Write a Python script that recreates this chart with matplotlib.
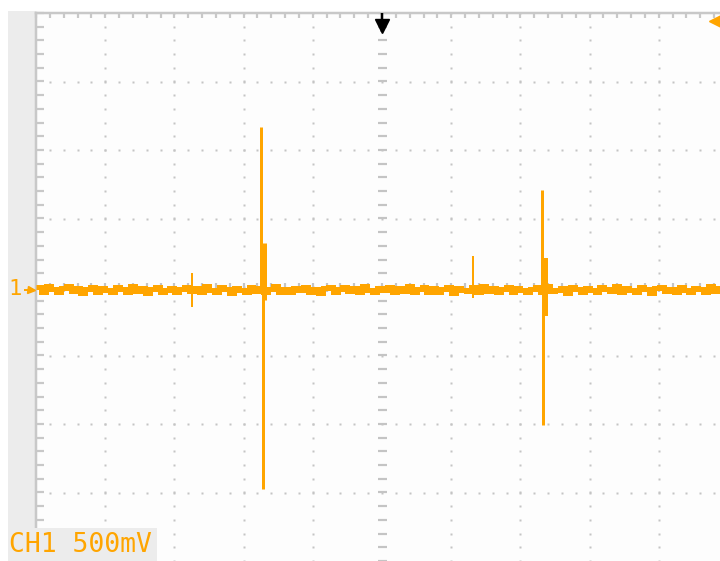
import numpy as np
import matplotlib
matplotlib.use("Agg")
import matplotlib.pyplot as plt
from matplotlib.patches import Rectangle

# ---------------- data (divisions) ----------------
baseline_noise = [
    0.03, -0.02, 0.04, 0.01, -0.03, 0.02, 0.04, -0.01, 0.02, -0.04,
    0.01, 0.03, -0.02, 0.02, 0.00, -0.03, 0.03, 0.01, -0.02, 0.04,
    -0.01, 0.02, -0.04, 0.01, 0.03, -0.02, 0.00, 0.02, -0.03, 0.01,
    0.03, -0.01, 0.02, -0.03, 0.04, 0.00, -0.02, 0.03, 0.01, -0.04,
    0.02, 0.00, -0.02, 0.03, -0.01, 0.02, -0.03, 0.01, 0.04, -0.02,
    0.01, -0.03, 0.02, 0.00, 0.03, -0.02, 0.01, -0.04, 0.02, 0.03,
    -0.02, 0.01, 0.03, -0.01, 0.02, -0.03, 0.04, 0.00, -0.02, 0.02,
    0.00, 0.03, -0.03, 0.02, -0.01, 0.04, -0.02, 0.01, 0.03, -0.03,
    0.02, -0.02, 0.01, 0.03, -0.04, 0.02, 0.00, -0.01, 0.03, -0.02,
    0.04, -0.01, 0.02, -0.03, 0.01, 0.03, -0.02, 0.02, 0.00, -0.03,
    0.01, 0.03, -0.02, 0.04, -0.01, 0.00, 0.02, -0.04, 0.03, 0.01,
    -0.03, 0.02, 0.00, -0.02, 0.03, 0.01, -0.01, 0.04, -0.03, 0.02,
    0.00, -0.02, 0.03, 0.01, -0.04, 0.02, 0.03, -0.01, 0.01, -0.02,
    0.03, 0.00, -0.03, 0.02, 0.01, -0.02, 0.04, -0.01, 0.02, 0.00,
]
baseline_level = -0.04

spike_t = [2.25, 3.25, 3.29, 3.28, 6.31, 7.31, 7.35, 7.33]
spike_hi = [0.20, 2.34, 0.64, -0.04, 0.45, 1.42, 0.42, -0.04]
spike_lo = [-0.29, -0.04, -0.19, -2.95, -0.16, -0.04, -0.42, -2.01]
spike_width_px = [2, 3, 5, 3, 2, 3, 6, 3]

channel_label = "CH1 500mV"
channel_marker = "1"

# ---------------- layout ----------------
W, H, DPI = 720, 561, 100
XDIV = 69.2
x0_px, top_px = 36, 13
ORANGE = "#FFA500"
GRID = "#C4C4C4"
BORDER = "#C8C8C8"
PANEL = "#ECECEC"

fig = plt.figure(figsize=(W / DPI, H / DPI), dpi=DPI)
fig.patch.set_facecolor("white")

pt = 72.0 / DPI  # points per pixel

# left gray panel
fig.add_artist(Rectangle((8 / W, 0), (x0_px - 8) / W, (H - 11) / H,
                         transform=fig.transFigure, facecolor=PANEL,
                         edgecolor="none", zorder=0))

ax = fig.add_axes([x0_px / W, 0, (W - x0_px) / W, (H - top_px) / H])
ax.set_facecolor("#FDFDFD")
xmax = (W - x0_px) / XDIV
ymin, ymax = -4.0, 4.0
YDIV = (H - top_px) / (ymax - ymin)

for s in ["right", "bottom"]:
    ax.spines[s].set_visible(False)
for s in ["top", "left"]:
    ax.spines[s].set_color(BORDER)
    ax.spines[s].set_linewidth(2.5 * pt)

xt = np.arange(0, xmax, 0.2)
yt = np.arange(-3.8, 4.001, 0.2)
ax.set_xticks(xt)
ax.set_yticks(yt)
ax.xaxis.set_ticks_position("top")
ax.yaxis.set_ticks_position("left")
ax.tick_params(axis="x", direction="in", length=5 * pt, width=2.2 * pt,
               color=BORDER, labeltop=False, labelbottom=False)
ax.tick_params(axis="y", direction="in", length=8 * pt, width=2.2 * pt,
               color=BORDER, labelleft=False)

# dotted grid
ys = np.arange(-4, 4.001, 0.2)
for k in range(1, 10):
    if k == 5:
        continue
    ax.plot(np.full_like(ys, k), ys, ls="none", marker="s",
            ms=2.4 * pt, mfc=GRID, mec="none", zorder=1)
xs = np.arange(0.2, xmax, 0.2)
for j in range(-3, 4):
    if j == 0:
        continue
    ax.plot(xs, np.full_like(xs, j), ls="none", marker="s",
            ms=2.4 * pt, mfc=GRID, mec="none", zorder=1)

# center cross with dashes
ax.plot(np.full_like(ys, 5), ys, ls="none", marker="_", ms=9 * pt,
        mew=2.2 * pt, mec=GRID, zorder=1)
ax.plot(xs, np.full_like(xs, 0), ls="none", marker="|", ms=9 * pt,
        mew=2.2 * pt, mec=GRID, zorder=1)

# trace
n = len(baseline_noise)
t = np.linspace(0, 10, n + 1)
vals = [baseline_level + 1.3 * v for v in baseline_noise]
ax.stairs(vals, t, baseline=None, color=ORANGE, linewidth=5 * pt, zorder=3)
ax.vlines(spike_t, spike_lo, spike_hi,
          colors=ORANGE, linewidths=[w * pt for w in spike_width_px], zorder=4)

ax.set_xlim(0, xmax)
ax.set_ylim(ymin, ymax)

# trigger position marker (top center)
ax.plot([5, 5], [4, 4 - 19 / YDIV], color="black", lw=2.5 * pt, zorder=6,
        clip_on=False, solid_capstyle="butt")
ax.plot([5], [4 - 13 / YDIV], marker="v", ms=14 * pt, color="black",
        zorder=6, clip_on=False)

# trigger level marker (top right, orange)
fig.lines.append(plt.Line2D([716 / W], [1 - 21 / H], marker="<",
                            ms=14 * pt, color=ORANGE,
                            transform=fig.transFigure))

# channel ground marker on the left
fig.text(15 / W, 1 - 289 / H, channel_marker, color=ORANGE, fontsize=16,
         family="DejaVu Sans Mono", ha="center", va="center")
fig.lines.append(plt.Line2D([25 / W, 31 / W], [1 - 290 / H, 1 - 290 / H],
                            color=ORANGE, lw=2 * pt,
                            transform=fig.transFigure))
fig.lines.append(plt.Line2D([31 / W], [1 - 290 / H], marker=">",
                            ms=7 * pt, color=ORANGE,
                            transform=fig.transFigure))

# channel label box
fig.add_artist(Rectangle((8 / W, 0), (157 - 8) / W, 33 / H,
                         transform=fig.transFigure, facecolor=PANEL,
                         edgecolor="none", zorder=5))
fig.text(9 / W, 16 / H, channel_label, color=ORANGE, fontsize=19,
         family="DejaVu Sans Mono", ha="left", va="center", zorder=6)

fig.savefig("out.png", dpi=DPI, facecolor="white")
